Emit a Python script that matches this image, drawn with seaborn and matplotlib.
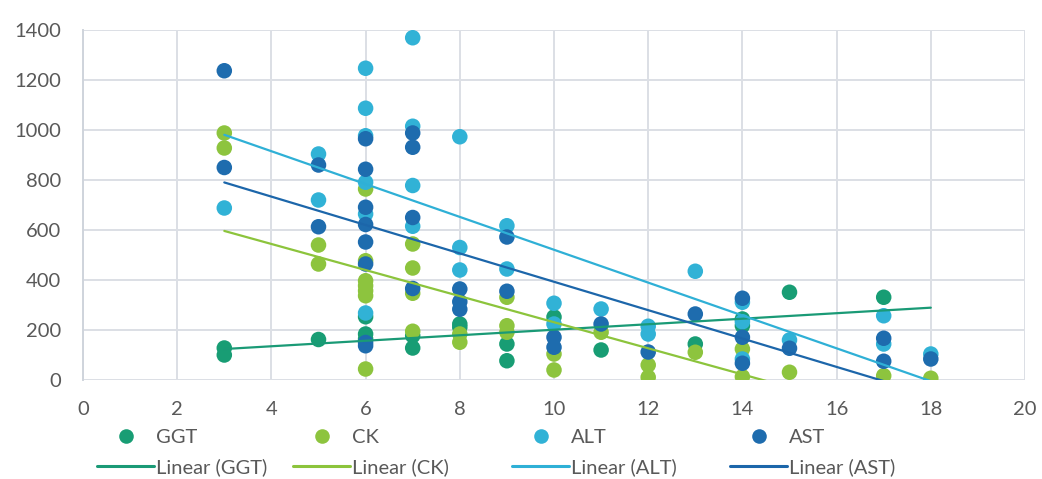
import numpy as np
import pandas as pd
import matplotlib
matplotlib.use("Agg")
import matplotlib.pyplot as plt
from matplotlib.lines import Line2D
import seaborn as sns

# Enzyme levels by day
ggt_day = [3, 3, 5, 6, 6, 6, 7, 7, 8, 8, 9, 9, 10, 11, 13, 14, 14, 15, 17]
ggt = [128, 100, 162, 253, 184, 164, 177, 128, 224, 211, 144, 77, 252, 120, 144, 244, 217, 351, 331]

ck_day = [3, 3, 5, 5, 6, 6, 6, 6, 6, 6, 6, 7, 7, 7, 7, 8, 8, 9, 9, 9, 10, 10, 11, 12, 12, 13, 14, 14, 15, 17, 18]
ck = [988, 928, 540, 464, 764, 477, 397, 377, 357, 337, 44, 544, 448, 347, 195, 184, 151, 331, 217, 191, 104, 40,
      191, 60, 11, 111, 124, 13, 31, 17, 7]

alt_day = [3, 5, 5, 6, 6, 6, 6, 6, 6, 7, 7, 7, 7, 8, 8, 8, 9, 9, 10, 10, 11, 12, 12, 13, 14, 14, 14, 15, 17, 17, 18]
alt = [688, 904, 720, 1247, 1087, 977, 791, 664, 268, 1369, 1015, 778, 615, 973, 530, 440, 617, 444, 307, 224,
       284, 215, 184, 435, 311, 233, 84, 160, 257, 144, 104]

ast_day = [3, 3, 5, 5, 6, 6, 6, 6, 6, 6, 6, 6, 7, 7, 7, 7, 8, 8, 8, 9, 9, 10, 10, 11, 12, 13, 14, 14, 14, 15, 17,
           17, 18]
ast = [1237, 850, 860, 613, 965, 843, 691, 622, 552, 464, 150, 137, 988, 931, 650, 366, 364, 313, 283, 572, 355,
       171, 131, 224, 112, 264, 327, 171, 67, 127, 167, 75, 84]

series = ["GGT", "CK", "ALT", "AST"]
point_colors = {"GGT": "#189d74", "CK": "#8dc43e", "ALT": "#31b2d6", "AST": "#1e6cae"}
line_colors = {"GGT": "#1a9a76", "CK": "#8cc43c", "ALT": "#2fb0d6", "AST": "#1c66aa"}

df = pd.concat([
    pd.DataFrame({"day": ggt_day, "value": ggt, "enzyme": "GGT"}),
    pd.DataFrame({"day": ck_day, "value": ck, "enzyme": "CK"}),
    pd.DataFrame({"day": alt_day, "value": alt, "enzyme": "ALT"}),
    pd.DataFrame({"day": ast_day, "value": ast, "enzyme": "AST"}),
], ignore_index=True)

sns.set_theme(style="white")
plt.rcParams["font.family"] = ["Lato", "DejaVu Sans"]
text_color = "#595959"
grid_color = "#dcdfe5"
fs = 14.5

fig = plt.figure(figsize=(10.42, 4.79), dpi=100)
ax = fig.add_axes([83 / 1042, 99 / 479, 942 / 1042, 350 / 479])

sns.scatterplot(data=df, x="day", y="value", hue="enzyme", hue_order=series,
                palette=point_colors, s=125, linewidth=0, alpha=1, legend=False,
                ax=ax, zorder=3)

# Linear trend lines over the observed day range
x_line = np.array([df["day"].min(), df["day"].max()], dtype=float)
for name in series:
    sub = df[df["enzyme"] == name]
    slope, intercept = np.polyfit(sub["day"], sub["value"], 1)
    ax.plot(x_line, slope * x_line + intercept, color=line_colors[name], lw=1.6, zorder=4)

ax.set_xlim(0, 20)
ax.set_ylim(0, 1400)
ax.set_xticks(np.arange(0, 21, 2))
ax.set_yticks(np.arange(0, 1401, 200))
ax.set_xlabel("")
ax.set_ylabel("")
ax.grid(True, color=grid_color, lw=1.4)
ax.set_axisbelow(True)
for side in ["top", "right", "bottom"]:
    ax.spines[side].set_visible(False)
ax.spines["left"].set_color("#cfd4dc")
ax.spines["left"].set_linewidth(1.4)
ax.tick_params(axis="both", length=0, labelsize=fs, colors=text_color)
ax.tick_params(axis="y", pad=16)
ax.tick_params(axis="x", pad=15)

# Legend: one column per enzyme, marker above its trend line
col_left = [97, 293, 512, 730]
for name, xl in zip(series, col_left):
    handles = [
        Line2D([], [], ls="none", marker="o", markersize=10.5, markerfacecolor=point_colors[name],
               markeredgewidth=0),
        Line2D([], [], color=line_colors[name], lw=2.2),
    ]
    fig.legend(handles, [name, f"Linear ({name})"], loc="upper left",
               bbox_to_anchor=(xl / 1042, 1 - 429 / 479), frameon=False,
               fontsize=fs, labelcolor=text_color, handlelength=2.85, handletextpad=0.1,
               labelspacing=0.58, borderpad=0, borderaxespad=0)

fig.savefig("out.png", dpi=100)
